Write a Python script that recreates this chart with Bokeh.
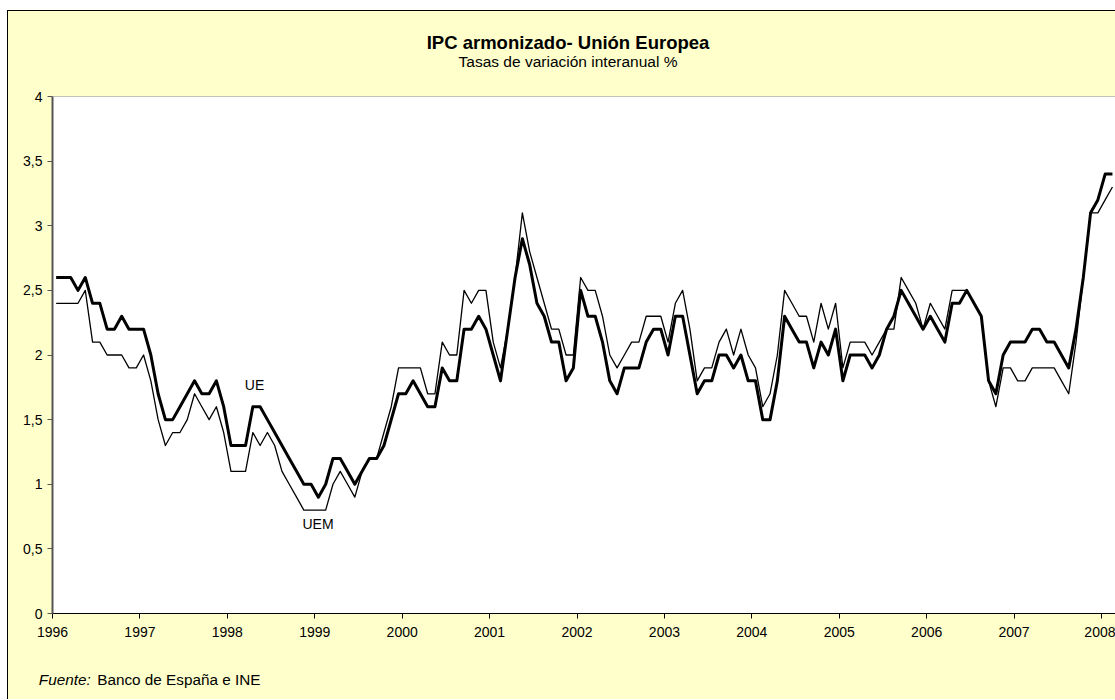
from bokeh.plotting import figure
from bokeh.layouts import column
from bokeh.models import FixedTicker, Label, Span
from bokeh.embed import file_html
from bokeh.resources import INLINE

# ---- data (monthly, Jan 1996 - Feb 2008), % year-on-year ----
year_ticks = list(range(1996, 2009))
y_ticks = [0, 0.5, 1, 1.5, 2, 2.5, 3, 3.5, 4]
y_tick_labels = ["0", "0,5", "1", "1,5", "2", "2,5", "3", "3,5", "4"]

ue_1996 = [2.6, 2.6, 2.6, 2.5, 2.6, 2.4, 2.4, 2.2, 2.2, 2.3, 2.2, 2.2]
ue_1997 = [2.2, 2.0, 1.7, 1.5, 1.5, 1.6, 1.7, 1.8, 1.7, 1.7, 1.8, 1.6]
ue_1998 = [1.3, 1.3, 1.3, 1.6, 1.6, 1.5, 1.4, 1.3, 1.2, 1.1, 1.0, 1.0]
ue_1999 = [0.9, 1.0, 1.2, 1.2, 1.1, 1.0, 1.1, 1.2, 1.2, 1.3, 1.5, 1.7]
ue_2000 = [1.7, 1.8, 1.7, 1.6, 1.6, 1.9, 1.8, 1.8, 2.2, 2.2, 2.3, 2.2]
ue_2001 = [2.0, 1.8, 2.2, 2.6, 2.9, 2.7, 2.4, 2.3, 2.1, 2.1, 1.8, 1.9]
ue_2002 = [2.5, 2.3, 2.3, 2.1, 1.8, 1.7, 1.9, 1.9, 1.9, 2.1, 2.2, 2.2]
ue_2003 = [2.0, 2.3, 2.3, 2.0, 1.7, 1.8, 1.8, 2.0, 2.0, 1.9, 2.0, 1.8]
ue_2004 = [1.8, 1.5, 1.5, 1.8, 2.3, 2.2, 2.1, 2.1, 1.9, 2.1, 2.0, 2.2]
ue_2005 = [1.8, 2.0, 2.0, 2.0, 1.9, 2.0, 2.2, 2.3, 2.5, 2.4, 2.3, 2.2]
ue_2006 = [2.3, 2.2, 2.1, 2.4, 2.4, 2.5, 2.4, 2.3, 1.8, 1.7, 2.0, 2.1]
ue_2007 = [2.1, 2.1, 2.2, 2.2, 2.1, 2.1, 2.0, 1.9, 2.2, 2.6, 3.1, 3.2]
ue_2008 = [3.4, 3.4]

uem_1996 = [2.4, 2.4, 2.4, 2.4, 2.5, 2.1, 2.1, 2.0, 2.0, 2.0, 1.9, 1.9]
uem_1997 = [2.0, 1.8, 1.5, 1.3, 1.4, 1.4, 1.5, 1.7, 1.6, 1.5, 1.6, 1.4]
uem_1998 = [1.1, 1.1, 1.1, 1.4, 1.3, 1.4, 1.3, 1.1, 1.0, 0.9, 0.8, 0.8]
uem_1999 = [0.8, 0.8, 1.0, 1.1, 1.0, 0.9, 1.1, 1.2, 1.2, 1.4, 1.6, 1.9]
uem_2000 = [1.9, 1.9, 1.9, 1.7, 1.7, 2.1, 2.0, 2.0, 2.5, 2.4, 2.5, 2.5]
uem_2001 = [2.1, 1.9, 2.2, 2.6, 3.1, 2.8, 2.6, 2.4, 2.2, 2.2, 2.0, 2.0]
uem_2002 = [2.6, 2.5, 2.5, 2.3, 2.0, 1.9, 2.0, 2.1, 2.1, 2.3, 2.3, 2.3]
uem_2003 = [2.1, 2.4, 2.5, 2.2, 1.8, 1.9, 1.9, 2.1, 2.2, 2.0, 2.2, 2.0]
uem_2004 = [1.9, 1.6, 1.7, 2.0, 2.5, 2.4, 2.3, 2.3, 2.1, 2.4, 2.2, 2.4]
uem_2005 = [1.9, 2.1, 2.1, 2.1, 2.0, 2.1, 2.2, 2.2, 2.6, 2.5, 2.4, 2.2]
uem_2006 = [2.4, 2.3, 2.2, 2.5, 2.5, 2.5, 2.4, 2.3, 1.8, 1.6, 1.9, 1.9]
uem_2007 = [1.8, 1.8, 1.9, 1.9, 1.9, 1.9, 1.8, 1.7, 2.1, 2.6, 3.1, 3.1]
uem_2008 = [3.2, 3.3]

ue = (ue_1996 + ue_1997 + ue_1998 + ue_1999 + ue_2000 + ue_2001 + ue_2002 +
      ue_2003 + ue_2004 + ue_2005 + ue_2006 + ue_2007 + ue_2008)
uem = (uem_1996 + uem_1997 + uem_1998 + uem_1999 + uem_2000 + uem_2001 + uem_2002 +
       uem_2003 + uem_2004 + uem_2005 + uem_2006 + uem_2007 + uem_2008)

# month index -> decimal year (point centred in its month)
months = [1996 + (i + 0.5) / 12.0 for i in range(len(ue))]

FONT = "Liberation Sans"
BG = "#FFFFCC"
W = 1107
HEAD_H = 70
MAIN_H = 569
FOOT_H = 49


def text_panel(h):
    f = figure(width=W, height=h, x_range=(0, W), y_range=(h, 0),
               output_backend="svg", toolbar_location=None,
               x_axis_location=None, y_axis_location=None,
               min_border=0, background_fill_color=BG, border_fill_color=BG,
               outline_line_color=None, frame_align=False)
    f.grid.visible = False
    return f


def lbl(x, y, text, align="left", size="14px", style="normal"):
    return Label(x=x, y=y, text=text, text_align=align, text_baseline="middle",
                 text_font=FONT, text_font_style=style, text_font_size=size,
                 text_color="black")


# ---- header (title + subtitle) ----
head = text_panel(HEAD_H)
head.add_layout(lbl(559.5, 30.9, "IPC armonizado- Unión Europea",
                    align="center", size="18.5px", style="bold"))
head.add_layout(lbl(559.5, 49.9, "Tasas de variación interanual %",
                    align="center", size="15.5px"))

# ---- main chart ----
p = figure(width=W, height=MAIN_H,
           x_range=(1996, 2008.16), y_range=(0, 4),
           output_backend="svg", toolbar_location=None,
           min_border_left=44, min_border_right=0,
           min_border_top=15, min_border_bottom=37,
           background_fill_color="white", border_fill_color=BG,
           outline_line_color=None, frame_align=False)

p.xgrid.visible = False
p.ygrid.visible = False

p.yaxis.ticker = FixedTicker(ticks=y_ticks)
p.yaxis.major_label_overrides = {t: l for t, l in zip(y_ticks, y_tick_labels)}
p.yaxis.axis_line_color = "#555555"
p.yaxis.axis_line_width = 2
p.yaxis.major_tick_line_color = "#555555"
p.yaxis.major_tick_out = 5
p.yaxis.major_tick_in = 0
p.yaxis.minor_tick_out = 0
p.yaxis.minor_tick_in = 0
p.yaxis.major_label_standoff = 5
p.yaxis.major_label_text_font = FONT
p.yaxis.major_label_text_font_size = "14px"
p.yaxis.major_label_text_color = "black"

p.xaxis.ticker = FixedTicker(ticks=year_ticks)
p.xaxis.major_label_overrides = {y: str(y) for y in year_ticks}
p.xaxis.axis_line_color = "black"
p.xaxis.axis_line_width = 1
p.xaxis.major_tick_line_color = "black"
p.xaxis.major_tick_out = 5
p.xaxis.major_tick_in = 0
p.xaxis.minor_tick_out = 0
p.xaxis.minor_tick_in = 0
p.xaxis.major_label_standoff = 8
p.xaxis.major_label_text_font = FONT
p.xaxis.major_label_text_font_size = "14px"
p.xaxis.major_label_text_color = "black"

p.add_layout(Span(location=4, dimension="width", line_color="#888888", line_width=1))

p.line(months, uem, line_color="black", line_width=1.3, line_join="round")
p.line(months, ue, line_color="black", line_width=3, line_join="round")

p.add_layout(lbl(1998.311, 1.766, "UE", align="center"))
p.add_layout(lbl(1999.037, 0.694, "UEM", align="center"))

# ---- footer (source) ----
foot = text_panel(FOOT_H)
foot.add_layout(lbl(30.3, 28.7, "Fuente:", style="italic", size="15.3px"))
foot.add_layout(lbl(88.7, 28.7, "Banco de España e INE", size="15.3px"))

layout = column(head, p, foot, spacing=0, margin=(10, 0, 0, 7))
layout.styles = {"border-left": "1px solid black", "border-top": "1px solid black",
                 "background-color": BG}

open("out.html", "w").write(file_html(layout, INLINE))
